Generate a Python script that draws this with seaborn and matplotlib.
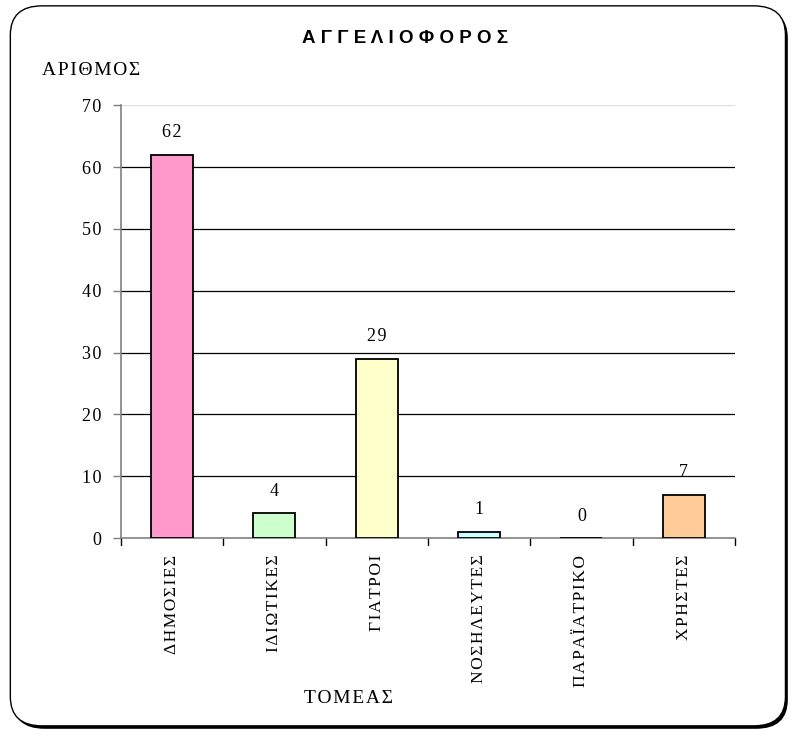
import matplotlib
matplotlib.use("Agg")
import matplotlib.pyplot as plt
from matplotlib.patches import FancyBboxPatch
import seaborn as sns
import pandas as pd

categories = ["ΔΗΜΟΣΙΕΣ", "ΙΔΙΩΤΙΚΕΣ", "ΓΙΑΤΡΟΙ", "ΝΟΣΗΛΕΥΤΕΣ", "ΠΑΡΑΪΑΤΡΙΚΟ", "ΧΡΗΣΤΕΣ"]
values = [62, 4, 29, 1, 0, 7]
bar_colors = ["#FF99CC", "#CCFFCC", "#FFFFCC", "#CCFFFF", "#99CCFF", "#FFCC99"]
y_ticks = [0, 10, 20, 30, 40, 50, 60, 70]

sns.set_theme(style="white")
plt.rcParams["font.family"] = ["Liberation Serif", "DejaVu Serif"]
plt.rcParams["text.color"] = "black"
plt.rcParams["xtick.color"] = "black"
plt.rcParams["ytick.color"] = "black"

HAIR = "\u200a"


def tracked(s, sep=HAIR):
    """Loosen letter spacing by putting a narrow space between characters."""
    return sep.join(s)


df = pd.DataFrame({"cat": categories, "val": values})

fig = plt.figure(figsize=(7.95, 7.31), dpi=100)

# rounded frame with a drop shadow, behind the axes
shadow = FancyBboxPatch((0.016, 0.003), 0.975, 0.985, boxstyle="round,pad=0,rounding_size=0.04",
                        transform=fig.transFigure, facecolor="black", edgecolor="none", zorder=-2)
frame = FancyBboxPatch((0.013, 0.007), 0.975, 0.985, boxstyle="round,pad=0,rounding_size=0.04",
                       transform=fig.transFigure, facecolor="white", edgecolor="black",
                       linewidth=1.0, zorder=-1)
fig.patches.extend([shadow, frame])

ax = fig.add_axes([0.152, 0.264, 0.7725, 0.592])
ax.set_facecolor("none")

sns.barplot(data=df, x="cat", y="val", hue="cat", palette=bar_colors, legend=False,
            saturation=1, width=0.41, edgecolor="black", linewidth=1.3, ax=ax, zorder=3)

ax.set_xlim(-0.5, len(categories) - 0.5)
ax.set_ylim(0, 70)
ax.set_yticks(y_ticks)
ax.set_yticklabels([tracked(str(t)) for t in y_ticks], fontsize=13)

for t in y_ticks[1:-1]:
    ax.axhline(t, color="black", linewidth=0.9, zorder=1)
ax.axhline(70, color="#DDDDDD", linewidth=0.9, zorder=1)

# category ticks between bars
ax.set_xticks(range(len(categories)))
ax.set_xticklabels([tracked(c) for c in categories], rotation=90, fontsize=12.5, va="top")
ax.tick_params(axis="x", length=0, pad=12)
for b in [i - 0.5 for i in range(len(categories) + 1)]:
    ax.plot([b, b], [0, -0.016], transform=ax.get_xaxis_transform(), color="black",
            linewidth=1.0, clip_on=False)
ax.tick_params(axis="y", left=True, length=6, width=1.0, color="#808080", pad=8)

for s in ["top", "right"]:
    ax.spines[s].set_visible(False)
for s in ["left", "bottom"]:
    ax.spines[s].set_color("#808080")
    ax.spines[s].set_linewidth(1.2)

for i, v in enumerate(values):
    ax.annotate(tracked(str(v)), (i, v), xytext=(0, 12.5), textcoords="offset points",
                ha="center", va="baseline", fontsize=13)

ax.set_xlabel("")
ax.set_ylabel("")
fig.text(0.509, 0.948, "Α Γ Γ Ε Λ Ι Ο Φ Ο Ρ Ο Σ", ha="center", va="center",
         fontsize=13.5, fontweight="bold", family=["Liberation Sans", "DejaVu Sans"])
fig.text(0.053, 0.904, tracked("ΑΡΙΘΜΟΣ"), ha="left", va="center", fontsize=14)
fig.text(0.438, 0.045, tracked("ΤΟΜΕΑΣ"), ha="center", va="center", fontsize=14)

fig.savefig("out.png", dpi=100)
